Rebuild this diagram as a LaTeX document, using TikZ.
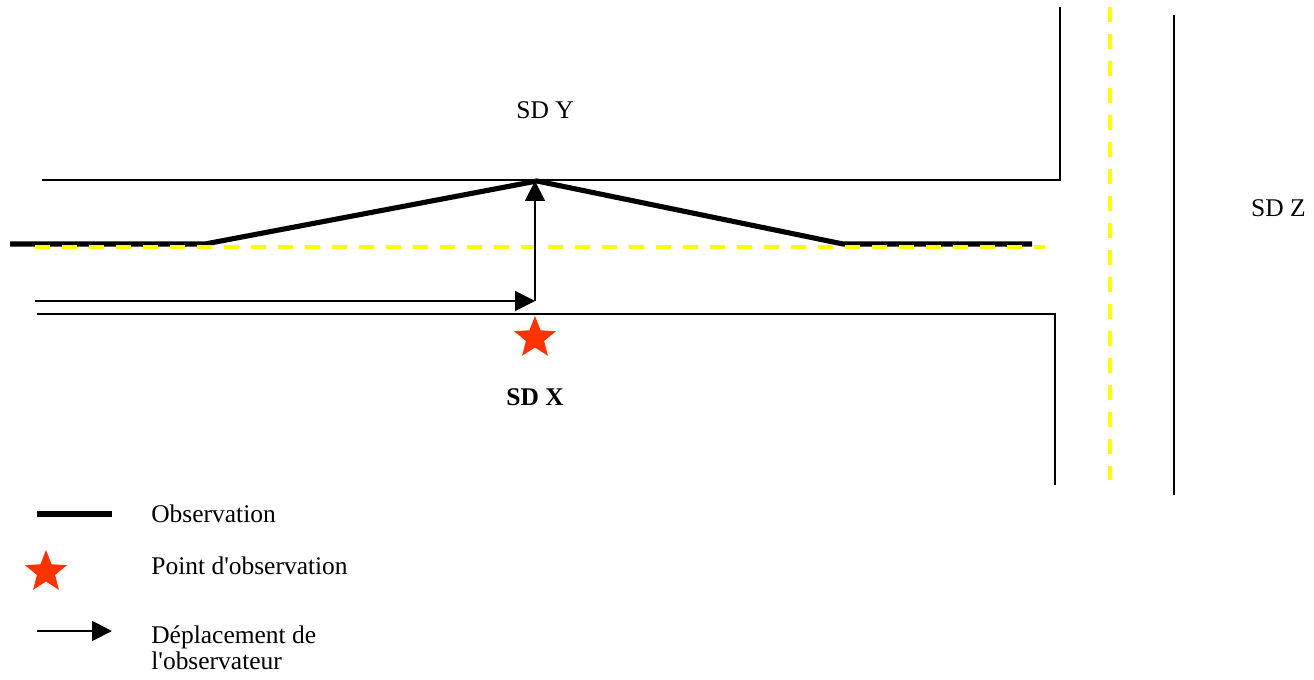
\documentclass[tikz,border=0pt]{standalone}
\usepackage{fontspec}
\setmainfont{Liberation Serif}
\usetikzlibrary{positioning,arrows.meta,shapes.geometric}
\definecolor{sdRed}{HTML}{FF3300}
\definecolor{sdYellow}{HTML}{FFFF00}

\begin{document}
\begin{tikzpicture}[x=0.02cm,y=-0.02cm, road/.style={line width=1.1pt}, obs/.style={line width=2.9pt}, axis/.style={draw=sdYellow,line width=2.2pt,dash pattern=on 0.3cm off 0.24cm}, move/.style={->,line width=1.1pt}, obspt/.style={star,star points=5,star point ratio=2.3,fill=sdRed,minimum size=0.88cm,inner sep=0pt}, lbl/.style={font=\fontsize{14.5}{14.8}\selectfont}, >={Triangle[length=0.4cm,width=0.4cm]}]
\useasboundingbox (0,0) rectangle (1314,679);
% bords de la route
\coordinate (nw0) at (42,180);\coordinate (nw1) at (1060,180);\coordinate (nw2) at (1060,7);
\coordinate (sw0) at (37,314);\coordinate (sw1) at (1055,314);\coordinate (sw2) at (1055,485);
\coordinate (ze0) at (1174,15);\coordinate (ze1) at (1174,495);
\draw[road] (nw0)--(nw1)--(nw2);
\draw[road] (sw0)--(sw1)--(sw2);
\draw[road] (ze0)--(ze1);
% observation
\coordinate (o1) at (10,244);\coordinate (o2) at (205,244);\coordinate (o3) at (537,181);
\coordinate (o4) at (843,244);\coordinate (o5) at (1032,244);
\draw[obs] (o1)--(o2)--(o3)--(o4)--(o5);
% axes
\coordinate (ax0) at (35,247);\coordinate (ax1) at (1045,247);
\coordinate (ay0) at (1110,7);\coordinate (ay1) at (1110,480);
\draw[axis] (ax0)--(ax1);\draw[axis] (ay0)--(ay1);
% deplacement
\coordinate (m0) at (35,301);\coordinate (m1) at (535,301);\coordinate (m2) at (535,181);
\draw[move] (m0)--(m1);\draw[move] (m1)--(m2);
\node[obspt] (p) at (535,338) {};
% labels
\node[lbl] (sdy) at (545,110) {SD Y};
\node[lbl,font=\fontsize{14.5}{14.8}\selectfont\bfseries] (sdx) at (535,397) {SD X};
\node[lbl,anchor=west] (sdz) at (1245,208) {SD Z};
% legende
\coordinate (l1a) at (37,514);\coordinate (l1b) at (112,514);
\draw[obs] (l1a)--(l1b);
\node[lbl,anchor=west,inner sep=0pt] (t1) at (151,514) {Observation};
\node[obspt] (l2) at (46,572) {};
\node[lbl,anchor=west,inner sep=0pt] (t2) at (151,566) {Point d\textquotesingle observation};
\coordinate (l3a) at (37,631);\coordinate (l3b) at (112,631);
\draw[move] (l3a)--(l3b);
\node[lbl,anchor=west,align=left,inner sep=0pt] (t3) at (151,648) {Déplacement de\\l\textquotesingle observateur};
\end{tikzpicture}
\end{document}
